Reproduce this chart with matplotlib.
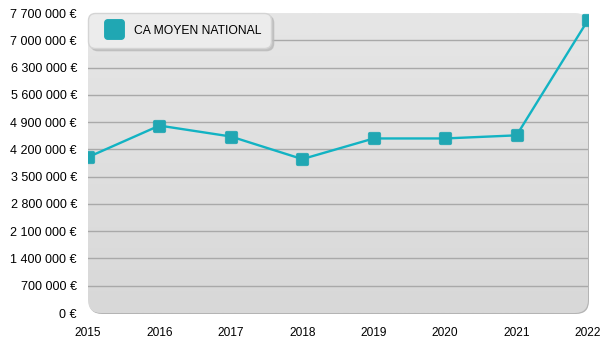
import numpy as np
import matplotlib
matplotlib.use("Agg")
import matplotlib.pyplot as plt
from matplotlib.patches import FancyBboxPatch
from matplotlib.path import Path
from matplotlib.lines import Line2D
from matplotlib.ticker import FuncFormatter
from matplotlib.colors import LinearSegmentedColormap

years = [2015, 2016, 2017, 2018, 2019, 2020, 2021, 2022]
ca_moyen = [4000000, 4810000, 4530000, 3950000, 4480000, 4480000, 4560000, 7520000]
y_ticks = [0, 700000, 1400000, 2100000, 2800000, 3500000, 4200000, 4900000,
           5600000, 6300000, 7000000, 7700000]
series_label = "CA MOYEN NATIONAL"

plt.rcParams['font.family'] = ['Liberation Sans', 'DejaVu Sans']

LINE = '#12b3c3'
MARK = '#20a7b3'


def rounded_square(r=0.3, n=8):
    verts = []
    corners = [(1 - r, 1 - r, 0), (-1 + r, 1 - r, 90), (-1 + r, -1 + r, 180), (1 - r, -1 + r, 270)]
    for cx, cy, a0 in corners:
        for t in np.linspace(np.radians(a0), np.radians(a0 + 90), n):
            verts.append((cx + r * np.cos(t), cy + r * np.sin(t)))
    verts.append(verts[0])
    codes = [Path.MOVETO] + [Path.LINETO] * (len(verts) - 2) + [Path.CLOSEPOLY]
    return Path(verts, codes)


rsq = rounded_square()

fig = plt.figure(figsize=(6, 3.5), dpi=100)
L, B, W, H = 0.88, 0.37, 5.0, 3.0
ax = fig.add_axes([L / 6, B / 3.5, W / 6, H / 3.5])
for s in ax.spines.values():
    s.set_visible(False)
ax.patch.set_visible(False)

# shadow + rounded plot background
shadow = FancyBboxPatch((L + 0.01, B - 0.01), W, H, boxstyle="round,pad=0,rounding_size=0.13",
                        transform=fig.dpi_scale_trans, facecolor='#b4b4b4', edgecolor='none',
                        zorder=0, clip_on=False)
fig.add_artist(shadow)
bg = FancyBboxPatch((L, B), W, H, boxstyle="round,pad=0,rounding_size=0.13",
                    transform=fig.dpi_scale_trans, facecolor='none', edgecolor='none',
                    zorder=0.5, clip_on=False)
fig.add_artist(bg)
grad = np.linspace(0, 1, 256).reshape(-1, 1)
cmap = LinearSegmentedColormap.from_list('g', ['#d8d8d8', '#e6e6e6'])
im = ax.imshow(grad, extent=[years[0], years[-1], y_ticks[0], y_ticks[-1]], origin='lower',
               aspect='auto', cmap=cmap, zorder=0.6)
im.set_clip_path(bg)
ax.set_xlim(years[0], years[-1])
ax.set_ylim(y_ticks[0], y_ticks[-1])

for v in y_ticks[1:-1]:
    ax.axhline(v, color='#a9a9a9', lw=1.0, zorder=1)

ax.plot(years, ca_moyen, color=LINE, lw=1.7, zorder=3)
ax.scatter(years, ca_moyen, marker=rsq, s=9.0 ** 2, facecolor=MARK,
           edgecolor=MARK, linewidths=0.5, zorder=4)

ax.set_yticks(y_ticks)
ax.yaxis.set_major_formatter(FuncFormatter(lambda v, p: f"{int(v):,}".replace(',', ' ') + " €"))
ax.set_xticks(years)
ax.set_xticklabels([str(y) for y in years])
ax.tick_params(axis='both', length=0, colors='#000000')
ax.tick_params(axis='y', pad=8, labelsize=9)
ax.tick_params(axis='x', pad=10, labelsize=8.6)

handle = Line2D([], [], linestyle='none', marker=rsq, markersize=14,
                markerfacecolor=MARK, markeredgecolor=MARK)
leg = ax.legend([handle], [series_label], loc='upper left', bbox_to_anchor=(0, 1),
                borderaxespad=0, fancybox=True, shadow={'color': '#bbbbbb', 'alpha': 0.8},
                facecolor='#ececec', edgecolor='#d4d4d4', framealpha=1,
                prop={'size': 8.7}, handlelength=2.65, handleheight=1.6,
                handletextpad=0.33, borderpad=0.8, labelspacing=0.2)
leg.set_zorder(6)
leg.get_frame().set_boxstyle('round,pad=0,rounding_size=0.6')

fig.savefig('out.png', dpi=100)
